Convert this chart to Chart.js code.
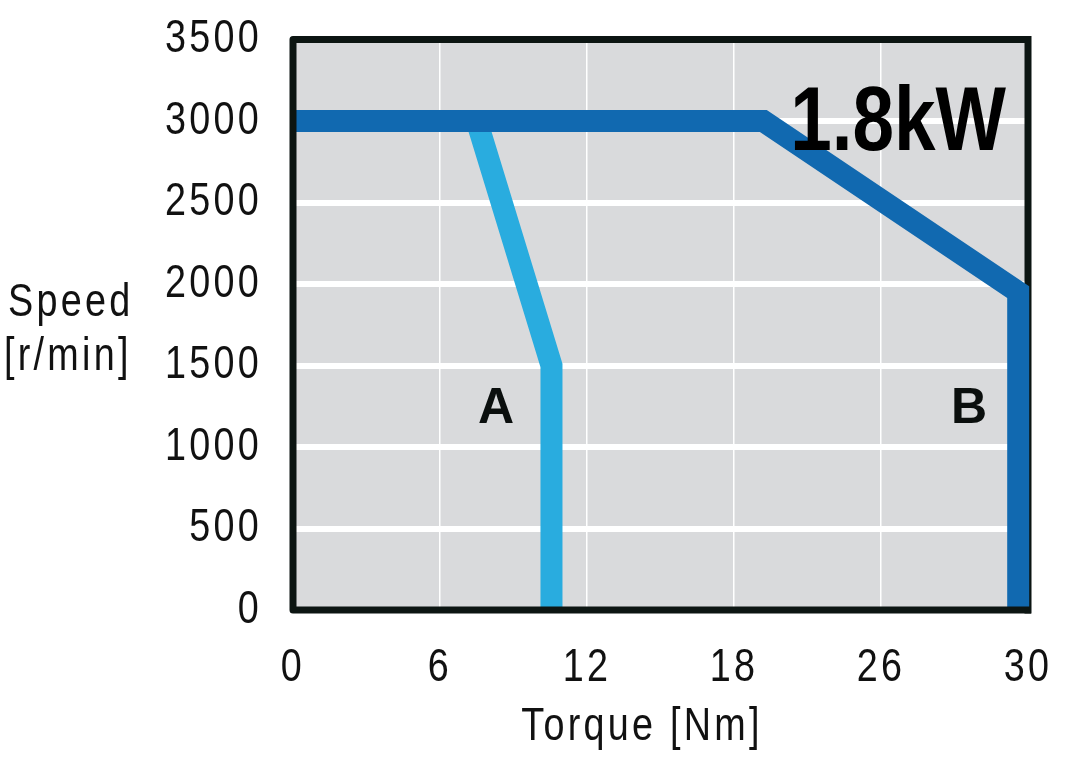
<!DOCTYPE html>
<html lang="en">
<head>
    <meta charset="UTF-8">
    <title>Speed / Torque 1.8kW</title>
    <style type="text/css">
        html, body { margin: 0; padding: 0; background: #fff; }
        .chartBox { width: 1067px; height: 763px; }
    </style>
</head>
<body>

<div class="chartBox">
    <canvas id="myChart" width="1067" height="763"></canvas>
</div>

<script src="https://cdn.jsdelivr.net/npm/chart.js"></script>
<script>

// tick labels as printed under the x axis (the 5th one reads 26)
const torqueTickLabels = ['0', '6', '12', '18', '26', '30'];

// curve A (light blue)
const curveATorque = [7.5, 10.55, 10.55];
const curveASpeed  = [3000, 1500, 0];

// curve B (dark blue)
const curveBTorque = [0, 19.2, 29.6, 29.6];
const curveBSpeed  = [3000, 3000, 1950, 0];

const toPoints = (xs, ys) => xs.map((x, i) => ({ x: x, y: ys[i] }));

const sans = "'Liberation Sans', Arial, sans-serif";
const frameColor = '#0c1512';

// no narrow font installed: squeeze text horizontally instead
let squeeze = 0.82;
const ctx = document.getElementById('myChart').getContext('2d');
const plainFillText = ctx.fillText;
ctx.fillText = function (t, x, y) {
    if (squeeze === 1) return plainFillText.call(this, t, x, y);
    this.save();
    this.translate(x, y);
    this.scale(squeeze, 1);
    plainFillText.call(this, t, 0, 0);
    this.restore();
};

const decor = {
    id: 'decor',
    beforeDraw(chart) {
        const { ctx, chartArea: a } = chart;
        ctx.save();
        ctx.fillStyle = '#d9dadc';
        ctx.fillRect(a.left, a.top, a.right - a.left, a.bottom - a.top);
        ctx.restore();
        ctx.letterSpacing = '4px';
        squeeze = 0.82;
    },
    beforeDatasetsDraw(chart) {
        const { ctx, chartArea: a } = chart;
        ctx.save();
        ctx.strokeStyle = frameColor;
        ctx.lineWidth = 7;
        ctx.beginPath();
        ctx.moveTo(a.right, a.top - 3.5);
        ctx.lineTo(a.right, a.bottom + 3.5);
        ctx.stroke();
        ctx.restore();
    },
    afterDatasetsDraw(chart) {
        const { ctx, chartArea: a } = chart;
        ctx.save();
        ctx.strokeStyle = frameColor;
        ctx.lineWidth = 7;
        ctx.lineJoin = 'round';
        ctx.beginPath();
        ctx.moveTo(a.right, a.top);
        ctx.lineTo(a.left, a.top);
        ctx.lineTo(a.left, a.bottom);
        ctx.lineTo(a.right + 3, a.bottom);
        ctx.stroke();

        ctx.letterSpacing = '0px';
        squeeze = 1;
        ctx.fillStyle = '#0b0f0e';
        ctx.textBaseline = 'middle';
        ctx.textAlign = 'center';
        ctx.font = 'bold 50px ' + sans;
        ctx.fillText('A', 496, 409);
        ctx.fillText('B', 969, 409);

        squeeze = 0.82;
        ctx.fillStyle = '#000';
        ctx.textAlign = 'right';
        ctx.textBaseline = 'alphabetic';
        ctx.font = 'bold 91px ' + sans;
        ctx.fillText('1.8kW', 1006, 150);

        // axis titles
        ctx.fillStyle = '#111';
        ctx.letterSpacing = '4px';
        ctx.font = '46px ' + sans;
        ctx.textAlign = 'left';
        ctx.fillText('Speed', 8, 316);
        ctx.fillText('[r/min]', 4, 370);
        ctx.textAlign = 'center';
        ctx.fillText('Torque [Nm]', 642, 740);
        ctx.restore();
    }
};

const myChart = new Chart(ctx, {
    type: 'line',
    data: {
        datasets: [{
            label: 'B',
            data: toPoints(curveBTorque, curveBSpeed),
            borderColor: '#1169b0',
            borderWidth: 22,
            borderJoinStyle: 'miter',
            borderCapStyle: 'butt',
            pointRadius: 0,
            fill: false,
            tension: 0,
            clip: false
        }, {
            label: 'A',
            data: toPoints(curveATorque, curveASpeed),
            borderColor: '#29acdf',
            borderWidth: 22,
            borderJoinStyle: 'miter',
            borderCapStyle: 'butt',
            pointRadius: 0,
            fill: false,
            tension: 0,
            clip: false
        }]
    },
    options: {
        responsive: false,
        animation: false,
        layout: { padding: { top: 39.5, right: 39, left: 0, bottom: 0 } },
        plugins: {
            legend: { display: false },
            tooltip: { enabled: false }
        },
        scales: {
            x: {
                type: 'linear',
                min: 0,
                max: 30,
                afterFit(scale) {
                    scale.height = 153;
                    scale.paddingLeft = 0;
                    scale.paddingRight = 0;
                },
                afterBuildTicks(scale) {
                    scale.ticks = torqueTickLabels.map((t, i) => ({ value: i * 6 }));
                },
                ticks: {
                    padding: 31,
                    color: '#111',
                    font: { family: sans, size: 46 },
                    maxRotation: 0,
                    autoSkip: false,
                    callback: (v, i) => torqueTickLabels[i]
                },
                grid: { color: '#ffffff', lineWidth: 1.5, drawTicks: false },
                border: { display: false }
            },
            y: {
                min: 0,
                max: 3500,
                afterFit(scale) {
                    scale.width = 293;
                    scale.paddingTop = 0;
                    scale.paddingBottom = 0;
                },
                ticks: {
                    stepSize: 500,
                    padding: 31,
                    color: '#111',
                    font: { family: sans, size: 46 },
                    callback: (v) => String(v)
                },
                grid: { color: '#ffffff', lineWidth: 6, drawTicks: false },
                border: { display: false }
            }
        }
    },
    plugins: [decor]
});
</script>

</body>
</html>
